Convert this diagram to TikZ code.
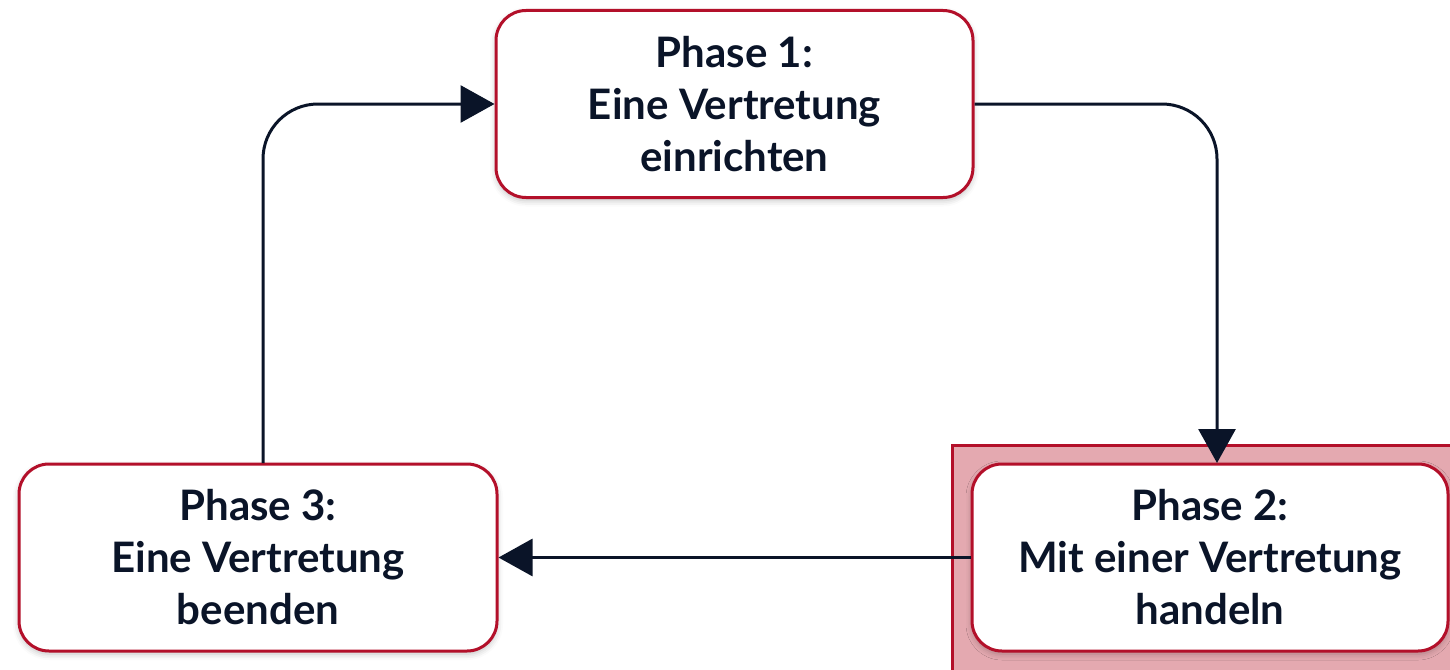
\documentclass[tikz,border=0pt]{standalone}
\usepackage{fontspec}
\setmainfont{Lato}
\usetikzlibrary{arrows.meta,shadows.blur}
\definecolor{ink}{HTML}{0A1428}
\definecolor{redline}{HTML}{B3102A}
\definecolor{pinkfill}{HTML}{E4A9B0}
\tikzset{
  phasebox/.style={draw=redline, line width=3pt, fill=white, rounded corners=30pt,
    minimum width=#1, minimum height=187pt, align=center, text=ink,
    font=\fontsize{42}{52}\selectfont\bfseries,
    blur shadow={shadow xshift=0pt, shadow yshift=-3pt, shadow blur radius=6pt, shadow opacity=25}},
  flow/.style={draw=ink, line width=3pt, rounded corners=55pt, -{Triangle[length=34pt,width=37pt]}},
}
\begin{document}
\begin{tikzpicture}[x=1pt,y=-1pt]
\useasboundingbox (0,0) rectangle (1450,669);
\node[draw=redline, line width=3pt, fill=pinkfill, minimum width=500pt, minimum height=226pt, anchor=north west] (hl) at (951,444) {};
\node[phasebox=477pt] (p1) at (734.5,104) {Phase 1:\\Eine Vertretung\\einrichten};
\node[phasebox=476pt] (p2) at (1210,557.5) {Phase 2:\\Mit einer Vertretung\\handeln};
\node[phasebox=478pt] (p3) at (258,557.5) {Phase 3:\\Eine Vertretung\\beenden};
\coordinate (p2in) at (1217,463);
\coordinate (p3out) at (263,463);
\draw[flow] (p1.east) -- (p2in |- p1.east) -- (p2in);
\draw[flow] (p3out) -- (p3out |- p1.west) -- (p1.west);
\draw[flow] (p2.west) -- (p3.east);
\end{tikzpicture}
\end{document}
